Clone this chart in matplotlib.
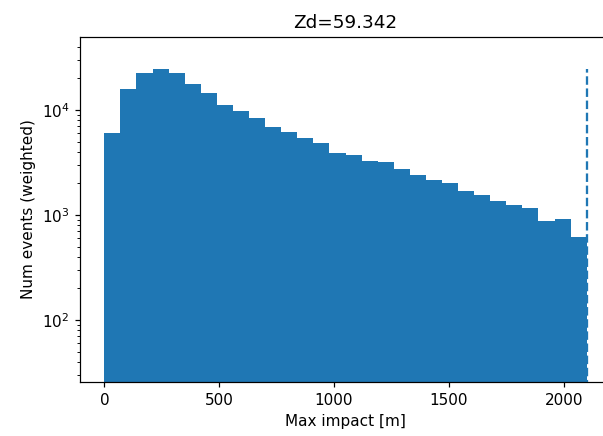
import numpy as np
import matplotlib
matplotlib.use("Agg")
import matplotlib.pyplot as plt

# zenith angle for this sample
zd = 59.342

# histogram of max impact, 30 bins of 70 m
bin_width = 70
n_bins = 30
counts = [6000, 15700, 22400, 24700, 22400, 17700, 14400, 11200, 9850, 8400,
          6850, 6160, 5400, 4820, 3920, 3700, 3290, 3200, 2720, 2420,
          2150, 2030, 1700, 1540, 1350, 1250, 1170, 885, 910, 620]

edges = np.arange(n_bins + 1) * bin_width

fig = plt.figure(figsize=(603 / 110, 436 / 110), dpi=110)
ax = fig.add_axes([0.133, 0.124, 0.880, 0.791])

ax.hist(edges[:-1], bins=edges, weights=counts, log=True)
#max impact cut
ax.vlines(edges[-1], 1, max(counts), colors="C0", linestyles="--")

# right side of the axes falls outside the saved picture
ax.spines["right"].set_visible(False)

ax.set_xlim(-105, 2205)
ax.set_ylim(25.7, 4.96e4)
ax.set_xlabel("Max impact [m]")
ax.set_ylabel("Num events (weighted)")
ax.set_title("Zd=" + str(zd))

fig.savefig("out.png", dpi=110)
